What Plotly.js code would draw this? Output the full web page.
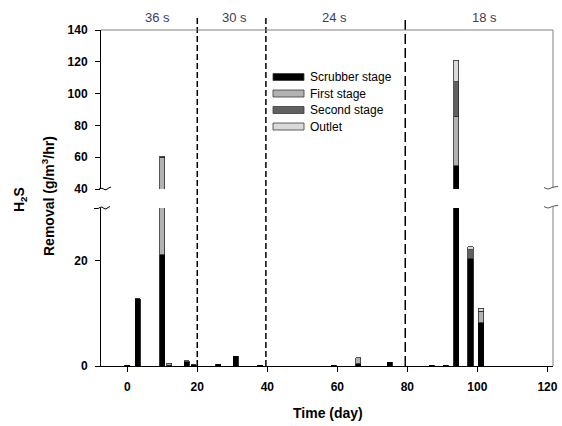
<!DOCTYPE html>
<html>
<head>
<meta charset="utf-8">
<script src="https://cdn.plot.ly/plotly-3.0.1.min.js"></script>
<style>html,body{margin:0;padding:0;background:#fff;}#chart{width:562px;height:426px;}</style>
</head>
<body>
<div id="chart"></div>
<script>
// ---- data ----
const days     = [0, 3, 10, 12, 17, 19, 26, 31, 38, 59, 66, 75, 87, 91, 94, 98, 101];
const scrubber = [0.15, 12.8, 21.1, 0.1, 0.8, 0.2, 0.3, 1.85, 0.15, 0.1, 0.4, 0.7, 0.15, 0.15, 54.5, 20.4, 8.2];
const firstSt  = [0, 0, 38.9, 0.4, 0.2, 0, 0, 0, 0, 0, 1.2, 0, 0, 0, 31.0, 0, 2.2];
const secondSt = [0, 0, 0, 0, 0, 0, 0, 0, 0, 0, 0, 0, 0, 0, 22.0, 1.7, 0];
const outlet   = [0, 0, 0.5, 0, 0, 0, 0, 0, 0, 0, 0, 0, 0, 0, 13.6, 0.5, 0.6];
const seriesNames = ['Scrubber stage', 'First stage', 'Second stage', 'Outlet'];
const seriesColors = ['#000000', '#b2b2b2', '#616161', '#dadada'];
const phaseLabels = ['36 s', '30 s', '24 s', '18 s'];
const phaseLabelX = [8.5, 30.5, 59.3, 101.9];
const phaseBounds = [20, 39.6, 79.4];
const xTicks = [0, 20, 40, 60, 80, 100, 120];
const yLowTicks = [0, 20];
const yHighTicks = [40, 60, 80, 100, 120, 140];

// ---- geometry helpers (pixels -> paper) ----
const L = 101, R = 553, T = 30, B = 366;
const px = p => (p - L) / (R - L);
const py = p => (B - p) / (B - T);

const allSeries = [scrubber, firstSt, secondSt, outlet];
const traces = [];
['y', 'y2'].forEach(ax => {
  allSeries.forEach((s, i) => {
    traces.push({
      type: 'bar', x: days, y: s.map(v => v === 0 ? null : v),
      yaxis: ax, xaxis: 'x', width: 1.5, name: seriesNames[i], showlegend: false,
      marker: {color: seriesColors[i], line: {color: i === 0 ? '#000' : '#2a2a2a', width: 0.8}},
      hoverinfo: 'skip'
    });
  });
});

const tickFont = {family: 'Liberation Sans, Arial', size: 12, color: '#000', weight: 'bold'};
const shapes = [];
const annotations = [];

// dashed phase boundaries
phaseBounds.forEach((b, i) => {
  shapes.push({type: 'line', xref: 'x', yref: 'paper', x0: b, x1: b, y0: 0, y1: py(17),
    line: {color: '#000', width: 1.5, dash: i === 2 ? '10px,4px' : '6px,3px'}});
});
// gray top and right frame
shapes.push({type: 'line', xref: 'paper', yref: 'paper', x0: 0, x1: 1, y0: 1, y1: 1, line: {color: '#808080', width: 1}});
shapes.push({type: 'line', xref: 'paper', yref: 'paper', x0: 1, x1: 1, y0: py(188), y1: 1, line: {color: '#808080', width: 1}});
shapes.push({type: 'line', xref: 'paper', yref: 'paper', x0: 1, x1: 1, y0: 0, y1: py(207), line: {color: '#808080', width: 1}});
// break marks
function wave(pts) {
  return 'M' + pts.map(p => px(p[0]).toFixed(5) + ',' + py(p[1]).toFixed(5)).join(' L');
}
const brk = (x0, y0) => wave([[x0, y0], [x0 + 2, y0 - 0.8], [x0 + 4, y0 - 0.3], [x0 + 6, y0 + 0.8], [x0 + 8, y0 + 0.3], [x0 + 10, y0 - 1.2], [x0 + 12, y0 - 2]]);
shapes.push({type: 'path', xref: 'paper', yref: 'paper', path: brk(99, 189), line: {color: '#000', width: 1}});
shapes.push({type: 'path', xref: 'paper', yref: 'paper', path: wave([[94, 208.5], [98, 208.5], [100, 207.5], [102, 207], [104, 208.5], [106, 209], [108, 207.5], [110, 206.5]]), line: {color: '#000', width: 1}});
shapes.push({type: 'path', xref: 'paper', yref: 'paper', path: wave([[544, 187.5], [546, 188.5], [548, 189], [550, 188.5], [552, 187.5], [554, 187], [558, 186.5]]), line: {color: '#555', width: 1}});
shapes.push({type: 'path', xref: 'paper', yref: 'paper', path: wave([[544, 206.5], [546, 207.5], [548, 208], [550, 207.5], [552, 206.5], [554, 206], [558, 205.5]]), line: {color: '#555', width: 1}});

// manual legend
const legY = [77, 93.5, 110, 126.5];
seriesNames.forEach((n, i) => {
  shapes.push({type: 'rect', xref: 'paper', yref: 'paper', x0: px(273), x1: px(304), y0: py(legY[i] + 3.5), y1: py(legY[i] - 3.5),
    fillcolor: seriesColors[i], line: {color: '#3a3a3a', width: 0.8}});
  annotations.push({xref: 'paper', yref: 'paper', x: px(308), y: py(legY[i]), xanchor: 'left', yanchor: 'middle',
    text: n, showarrow: false, font: {family: 'Liberation Sans, Arial', size: 12, color: '#000'}});
});
// phase labels
phaseLabels.forEach((t, i) => {
  annotations.push({xref: 'x', yref: 'paper', x: phaseLabelX[i], y: py(18), xanchor: 'center', yanchor: 'middle',
    text: t, showarrow: false, font: {family: 'Liberation Sans, Arial', size: 13, color: '#3e3e5c'}});
});
// axis titles
annotations.push({xref: 'paper', yref: 'paper', x: px(327.5), y: py(413), xanchor: 'center', yanchor: 'middle',
  text: 'Time (day)', showarrow: false, font: {family: 'Liberation Sans, Arial', size: 14, color: '#000', weight: 'bold'}});
annotations.push({xref: 'paper', yref: 'paper', x: px(20), y: py(200), xanchor: 'center', yanchor: 'middle', textangle: -90,
  text: 'H<sub>2</sub>S', showarrow: false, font: {family: 'Liberation Sans, Arial', size: 14, color: '#000', weight: 'bold'}});
annotations.push({xref: 'paper', yref: 'paper', x: px(48), y: py(196), xanchor: 'center', yanchor: 'middle', textangle: -90,
  text: 'Removal (g/m<sup>3</sup>/hr)', showarrow: false, font: {family: 'Liberation Sans, Arial', size: 14, color: '#000', weight: 'bold'}});

const layout = {
  width: 562, height: 426,
  margin: {l: L, r: 562 - R, t: T, b: 426 - B, pad: 0},
  paper_bgcolor: '#fff', plot_bgcolor: '#fff',
  barmode: 'stack', showlegend: false,
  xaxis: {range: [-7.5, 121.6], tickvals: xTicks, ticks: 'outside', ticklen: 5, tickcolor: '#000',
    showline: true, linecolor: '#000', linewidth: 1, showgrid: false, zeroline: false, tickfont: tickFont,
    ticklabelstandoff: 5, anchor: 'y', fixedrange: true},
  yaxis: {domain: [0, py(208)], range: [0, 30], tickvals: yLowTicks, ticks: 'outside', ticklen: 5, tickcolor: '#000',
    showline: true, linecolor: '#000', linewidth: 1, showgrid: false, zeroline: false, tickfont: tickFont,
    ticklabelstandoff: 5, anchor: 'x'},
  yaxis2: {domain: [py(189), 1], range: [40, 140], tickvals: yHighTicks, ticks: 'outside', ticklen: 5, tickcolor: '#000',
    showline: true, linecolor: '#000', linewidth: 1, showgrid: false, zeroline: false, tickfont: tickFont,
    ticklabelstandoff: 5, anchor: 'x'},
  shapes: shapes, annotations: annotations
};

Plotly.newPlot('chart', traces, layout, {staticPlot: true, displayModeBar: false});
</script>
</body>
</html>
